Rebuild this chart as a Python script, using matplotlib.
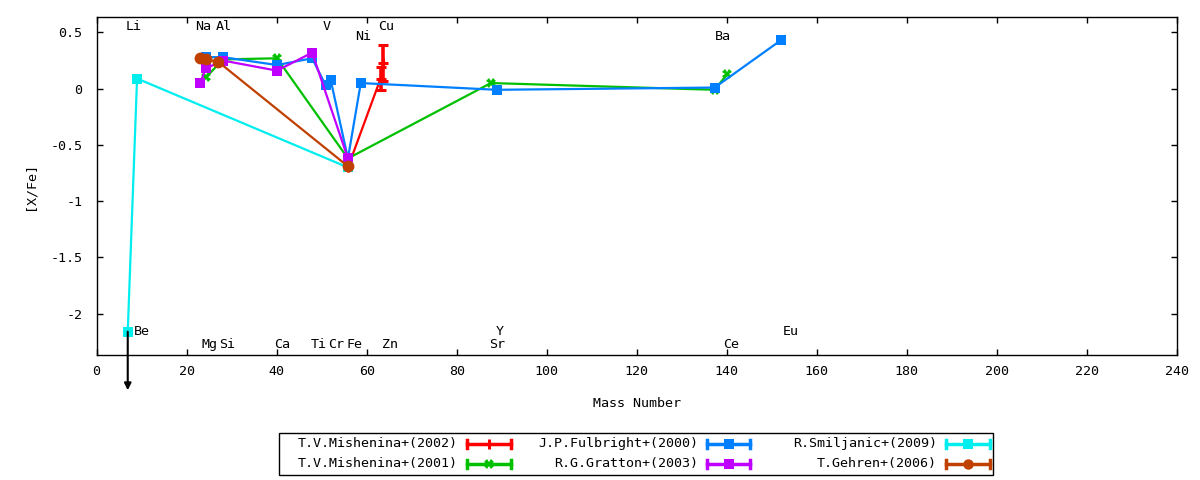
import matplotlib
matplotlib.use("Agg")
import matplotlib.pyplot as plt
from matplotlib.lines import Line2D
from matplotlib.patches import Rectangle

plt.rcParams['font.family'] = ['DejaVu Sans Mono']
FS = 9.6

# ---------------- data ----------------
red_x = [55.85, 63.1, 63.7]
red_y = [-0.70, 0.09, 0.23]
red_err = [0.0, 0.10, 0.16]

green_x = [24.3, 28.1, 40.1, 55.85, 87.6, 137.3, 140.1]
green_y = [0.10, 0.26, 0.27, -0.62, 0.05, -0.01, 0.13]

blue_x = [24.3, 28.1, 40.1, 47.9, 50.9, 52.0, 55.85, 58.7, 88.9, 137.3, 152.0]
blue_y = [0.28, 0.28, 0.21, 0.27, 0.03, 0.08, -0.62, 0.05, -0.01, 0.01, 0.43]

purple_x = [23.0, 24.3, 28.1, 40.1, 47.9, 55.85]
purple_y = [0.05, 0.18, 0.25, 0.16, 0.32, -0.62]

cyan_x = [6.94, 9.01, 55.85]
cyan_y = [-2.16, 0.09, -0.70]
cyan_upper_limit_x = 6.94
cyan_upper_limit_y = -2.16
arrow_end_y = -2.68

brown_x = [23.0, 24.3, 27.0, 55.85]
brown_y = [0.27, 0.26, 0.24, -0.69]

series_labels = ["T.V.Mishenina+(2002)", "T.V.Mishenina+(2001)",
                 "J.P.Fulbright+(2000)", "R.G.Gratton+(2003)",
                 "R.Smiljanic+(2009)", "T.Gehren+(2006)"]

elem_names = ['Li', 'Na', 'Al', 'V', 'Ni', 'Cu', 'Ba', 'Be', 'Y', 'Eu',
              'Mg', 'Si', 'Ca', 'Ti', 'Cr', 'Fe', 'Zn', 'Sr', 'Ce']
elem_x = [6.5, 22.0, 26.4, 50.3, 57.4, 62.5, 137.4, 8.3, 88.7, 152.5,
          23.4, 27.3, 39.4, 47.5, 51.4, 55.5, 63.4, 87.3, 139.2]
elem_y = [0.553, 0.553, 0.553, 0.553, 0.464, 0.553, 0.464, -2.155, -2.155, -2.155,
          -2.275, -2.275, -2.275, -2.275, -2.275, -2.275, -2.275, -2.275, -2.275]

xticks = [0, 20, 40, 60, 80, 100, 120, 140, 160, 180, 200, 220, 240]
xtick_labels = ['0', '20', '40', '60', '80', '100', '120', '140', '160', '180', '200', '220', '240']
yticks = [0.5, 0, -0.5, -1, -1.5, -2]
ytick_labels = ['0.5', '0', '-0.5', '-1', '-1.5', '-2']

# ---------------- style ----------------
C_RED = '#ff0000'
C_GREEN = '#00c000'
C_BLUE = '#0080ff'
C_PURPLE = '#c000ff'
C_CYAN = '#00eeee'
C_BROWN = '#c04000'

W, H = 1200, 480
fig = plt.figure(figsize=(12, 4.8), dpi=100)
L, R, T, B = 96.5, 1177, 17, 355
ax = fig.add_axes([L / W, 1 - B / H, (R - L) / W, (B - T) / H])

lw = 1.6
ax.errorbar(red_x, red_y, yerr=red_err, color=C_RED, lw=lw, marker='+', ms=7,
            mew=2.2, capsize=3.5, elinewidth=2.6, capthick=2.6, zorder=3)
ax.plot(green_x, green_y, color=C_GREEN, lw=lw, marker='X', ms=6.5, mew=0, zorder=4)
ax.plot(blue_x, blue_y, color=C_BLUE, lw=lw, marker='s', ms=7.5, mew=0, zorder=5)
ax.plot(purple_x, purple_y, color=C_PURPLE, lw=lw, marker='s', ms=7.5, mew=0, zorder=6)
ax.plot(cyan_x, cyan_y, color=C_CYAN, lw=lw, marker='s', ms=7.5, mew=0, zorder=7)
ax.plot(brown_x, brown_y, color=C_BROWN, lw=lw, marker='o', ms=8.5, mew=0, zorder=8)

ax.annotate('', xy=(cyan_upper_limit_x, arrow_end_y),
            xytext=(cyan_upper_limit_x, cyan_upper_limit_y),
            arrowprops=dict(arrowstyle='-|>', color='black', lw=1.5,
                            mutation_scale=10, shrinkA=0, shrinkB=0),
            annotation_clip=False, zorder=9)

for name, x, y in zip(elem_names, elem_x, elem_y):
    ax.text(x, y, name, ha='left', va='center', fontsize=FS, zorder=10)

ax.set_xlim(0, 240)
ax.set_ylim(-2.367, 0.637)
ax.set_xticks(xticks)
ax.set_xticklabels(xtick_labels, fontsize=FS)
ax.set_yticks(yticks)
ax.set_yticklabels(ytick_labels, fontsize=FS)
ax.tick_params(direction='in', length=4, width=1, top=True, right=True)
ax.tick_params(axis='y', pad=10)
ax.tick_params(axis='x', pad=7)
for s in ax.spines.values():
    s.set_linewidth(1)

ax.set_xlabel('Mass Number', fontsize=FS)
ax.xaxis.set_label_coords(0.5, (B - 397) / (B - T))
ax.set_ylabel('[X/Fe]', fontsize=FS)
ax.yaxis.set_label_coords((37 - L) / (R - L), 0.5)

# ---------------- legend (gnuplot style) ----------------
def fx(px):
    return px / W

def fy(py):
    return 1 - py / H

fig.patches.append(Rectangle((fx(279), fy(475)), (993 - 279) / W, (475 - 433) / H,
                             transform=fig.transFigure, fill=False,
                             edgecolor='black', lw=1))

leg_colors = [C_RED, C_GREEN, C_BLUE, C_PURPLE, C_CYAN, C_BROWN]
leg_markers = ['+', 'X', 's', 's', 's', 'o']
leg_ms = [7, 6.5, 7.5, 7.5, 7.5, 7.5]
text_right = [458, 698, 937]
samp_x0 = [467, 707, 946]
samp_x1 = [511, 750, 990]
row_y = [444, 464]

for i, (lab, col, mk, ms) in enumerate(zip(series_labels, leg_colors, leg_markers, leg_ms)):
    c, r = i // 2, i % 2
    y = row_y[r]
    fig.text(fx(text_right[c]), fy(y), lab, ha='right', va='center', fontsize=FS)
    x0, x1 = samp_x0[c], samp_x1[c]
    fig.add_artist(Line2D([fx(x0), fx(x1)], [fy(y), fy(y)], color=col, lw=2.5,
                          transform=fig.transFigure))
    for xe in (x0, x1):
        fig.add_artist(Line2D([fx(xe), fx(xe)], [fy(y - 4), fy(y + 4)], color=col, lw=2.5,
                              transform=fig.transFigure))
    xm = (x0 + x1) / 2
    fig.add_artist(Line2D([fx(xm)], [fy(y)], color=col, marker=mk, ms=ms,
                          mew=2.2 if mk == '+' else 0,
                          transform=fig.transFigure))

fig.savefig('out.png', dpi=100)
